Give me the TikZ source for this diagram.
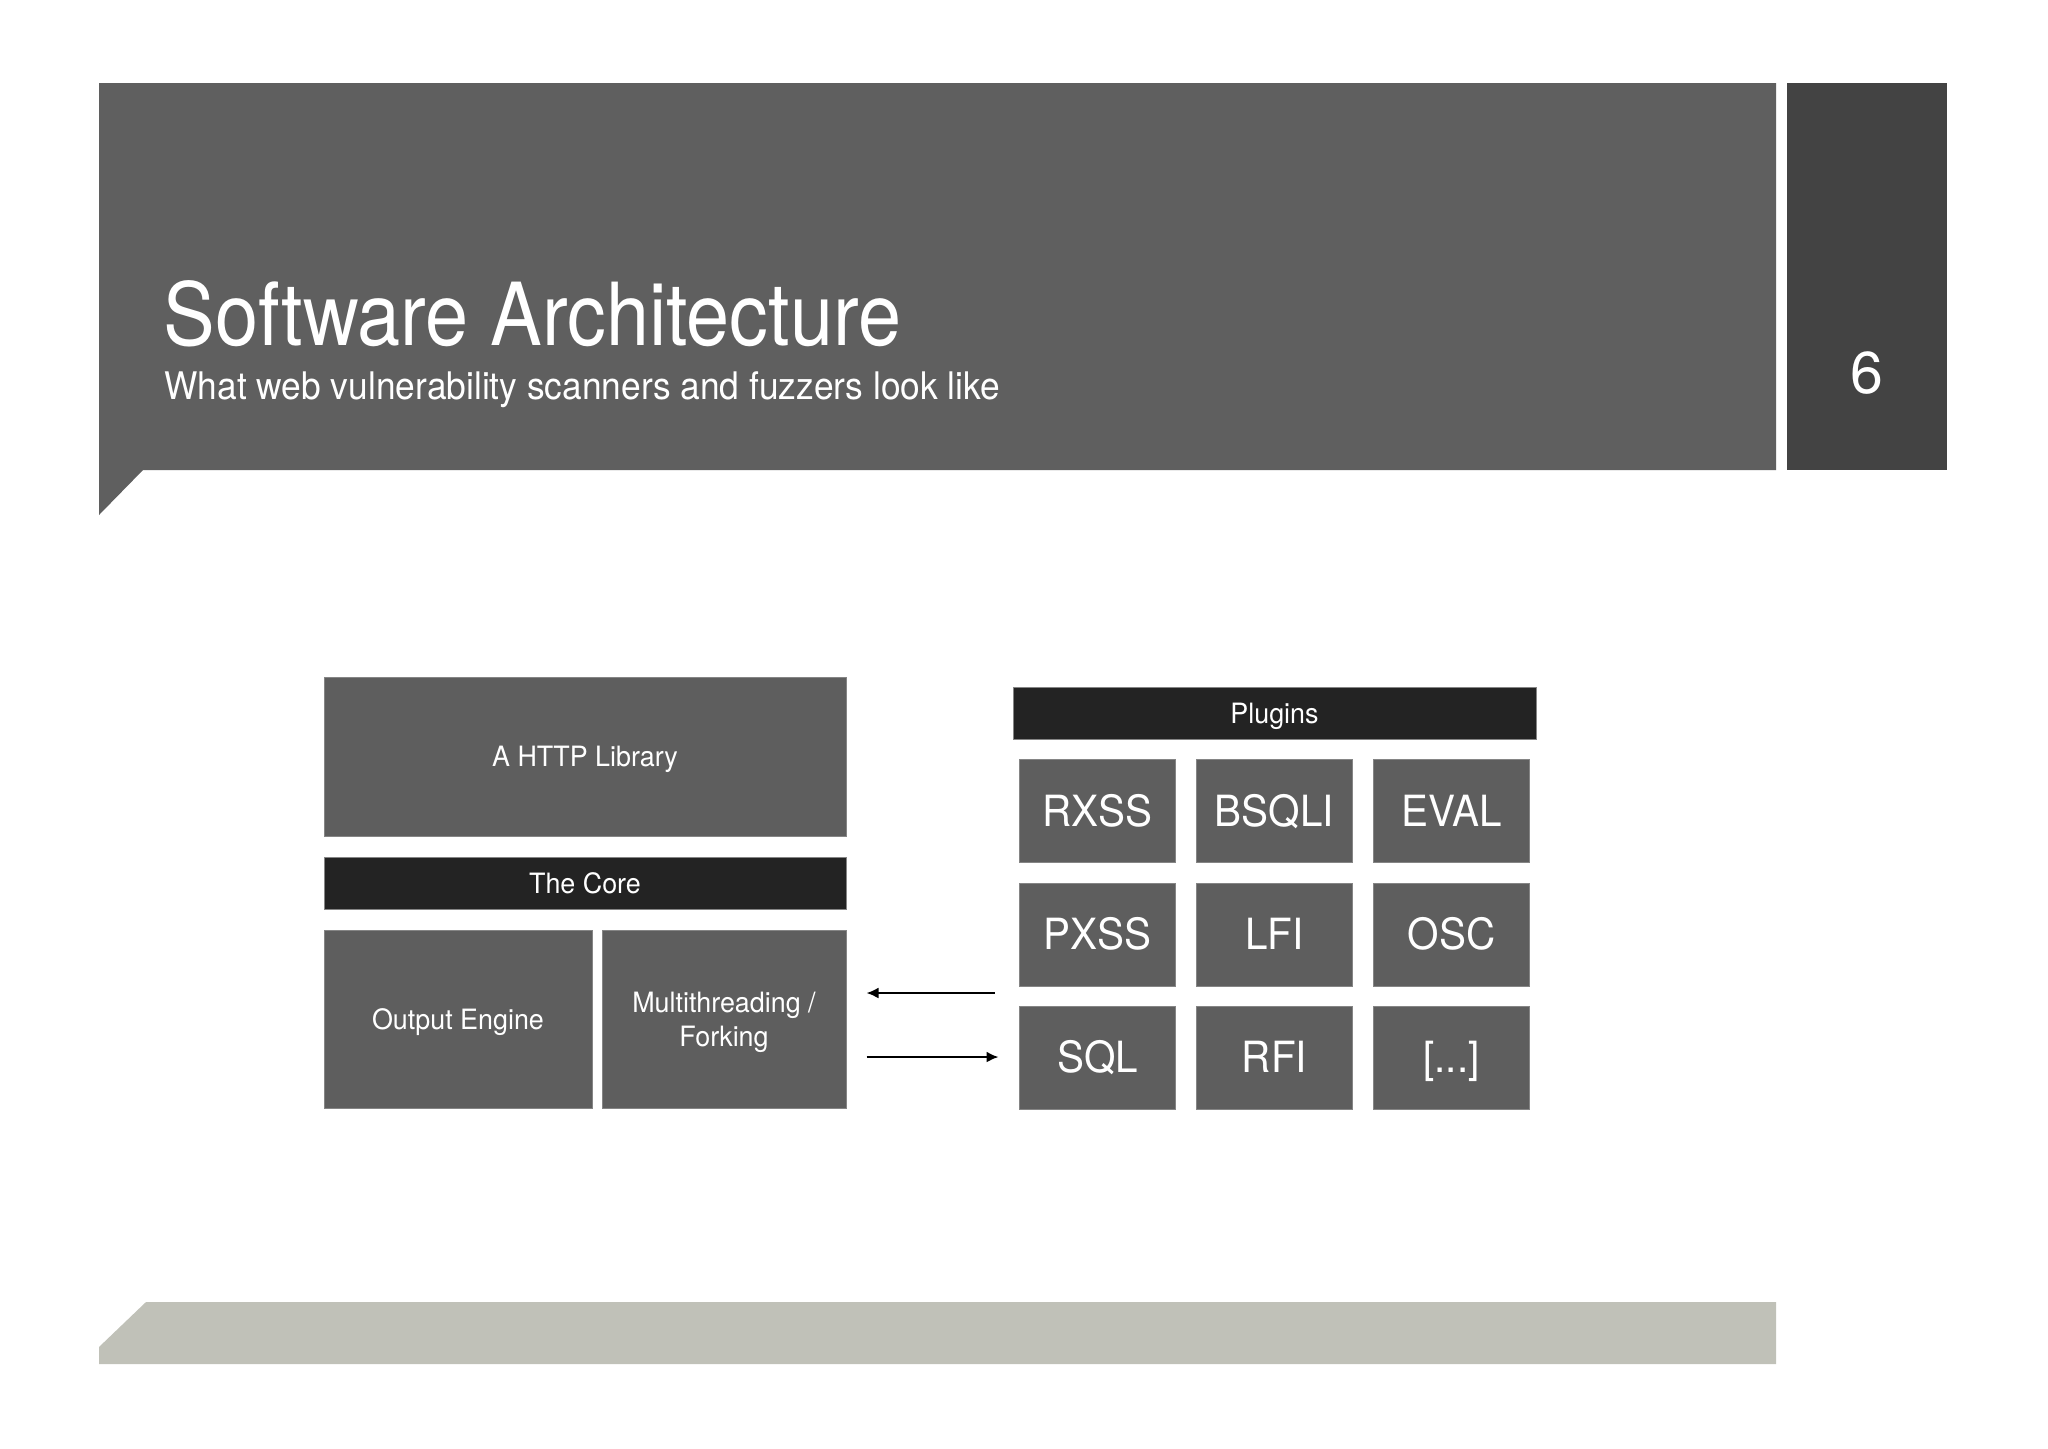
\documentclass[tikz,border=0pt]{standalone}
\usepackage{fontspec}
\setmainfont{TeX Gyre Heros}
\newfontfamily\titlefont{TeX Gyre Heros}[FakeStretch=0.89]
\newfontfamily\subfont{TeX Gyre Heros}[FakeStretch=0.93]
\newfontfamily\lblfont{TeX Gyre Heros}[FakeStretch=0.96]
\newfontfamily\bigfont{TeX Gyre Heros}[FakeStretch=0.94]
\usetikzlibrary{calc,arrows.meta}
\definecolor{hdr}{HTML}{5F5F5F}
\definecolor{pgbox}{HTML}{434343}
\definecolor{darkbar}{HTML}{232323}
\definecolor{boxfill}{HTML}{5E5E5E}
\definecolor{boxline}{HTML}{858585}
\definecolor{foot}{HTML}{C0C1B8}
\tikzset{
  blk/.style={fill=boxfill, draw=boxline, line width=0.5pt, text=white, inner sep=0pt, text depth=0pt},
  bar/.style={fill=darkbar, draw=boxline, line width=0.5pt, text=white, inner sep=0pt, text depth=0pt},
  lbl/.style={font=\lblfont\fontsize{14}{17}\selectfont, text height=10.05pt},
  big/.style={font=\bigfont\fontsize{21.5}{24}\selectfont, text height=15.44pt},
  cell/.style={blk, big, minimum width=78pt, minimum height=51.5pt},
  twoline/.style={align=center, text height=27pt, text depth=0pt},
  arr/.style={-{Latex[length=6pt,width=5.5pt]}, line width=1pt, black},
}
\begin{document}
\begin{tikzpicture}[x=0.5pt,y=-0.5pt]
\useasboundingbox (0,0) rectangle (2048,1448);
\fill[white] (0,0) rectangle (2048,1448);
% header
\fill[hdr] (99,83) -- (1776,83) -- (1776,470) -- (143,470) -- (99,515) -- cycle;
\fill[pgbox] (1787,83) rectangle (1947,470);
\node[anchor=base west, inner sep=0pt, text=white, font=\titlefont\fontsize{43.5}{50}\selectfont] (title) at (163,345) {Software Architecture};
\node[anchor=base west, inner sep=0pt, text=white, font=\subfont\fontsize{19}{23}\selectfont] (subtitle) at (164,399) {What web vulnerability scanners and fuzzers look like};
\node[anchor=base, inner sep=0pt, text=white, font=\fontsize{29.5}{34}\selectfont] (pagenum) at (1867,393) {6};
% footer
\fill[foot] (146,1302) -- (1776,1302) -- (1776,1364) -- (99,1364) -- (99,1347) -- cycle;
% left stack
\node[blk, lbl, minimum width=261pt, minimum height=79.5pt] (http) at (585,756.5) {A HTTP Library};
\node[bar, lbl, minimum width=261pt, minimum height=26pt] (core) at (585,883) {The Core};
\node[blk, lbl, minimum width=134pt, minimum height=89pt] (out) at (458,1019) {Output Engine};
\node[blk, lbl, twoline, minimum width=122pt, minimum height=89pt] (multi) at (724,1019) {Multithreading /\\Forking};
% plugins
\node[bar, lbl, minimum width=261.5pt, minimum height=26pt] (plugins) at (1274.5,713) {Plugins};
\node[cell] (rxss) at (1097.5,811) {RXSS};
\node[cell] (bsqli) at (1274.5,811) {BSQLI};
\node[cell] (eval) at (1451.5,811) {EVAL};
\node[cell] (pxss) at (1097.5,934.5) {PXSS};
\node[cell] (lfi) at (1274.5,934.5) {LFI};
\node[cell] (osc) at (1451.5,934.5) {OSC};
\node[cell] (sql) at (1097.5,1057.5) {SQL};
\node[cell] (rfi) at (1274.5,1057.5) {RFI};
\node[cell] (more) at (1451.5,1057.5) {[...]};
% arrows
\draw[arr] ($(sql.west)+(-24.5,-64.5)$) -- ($(multi.east)+(20,-26)$);
\draw[arr] ($(multi.east)+(20,38)$) -- ($(sql.west)+(-20.5,-0.5)$);
\end{tikzpicture}
\end{document}
